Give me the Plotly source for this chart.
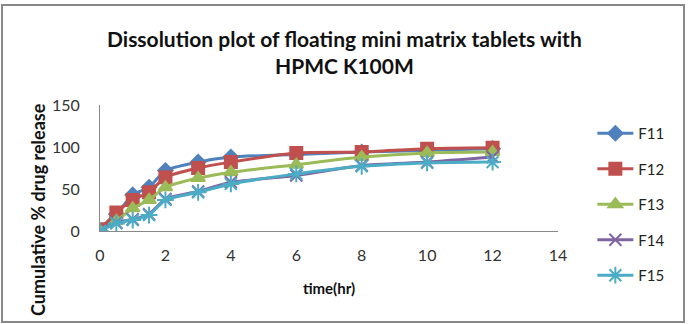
import plotly.graph_objects as go

time_hr = [0, 0.5, 1, 1.5, 2, 3, 4, 6, 8, 10, 12]
F11 = [0, 20, 43, 52, 72, 82, 88, 91, 94, 96, 98]
F12 = [2, 22, 37, 46, 64, 75, 82, 93, 94, 98, 99]
F13 = [0, 12, 27, 37, 52, 63, 70, 79, 88, 93, 94]
F14 = [0, 10, 14, 20, 38, 47, 58, 66, 78, 82, 88]
F15 = [0, 9, 13, 19, 37, 46, 56, 68, 77, 81, 82]

series = [
    ("F11", F11, "#4F81BD", "diamond", 11),
    ("F12", F12, "#C0504D", "square", 12),
    ("F13", F13, "#9BBB59", "triangle-up", 12),
    ("F14", F14, "#8064A2", "x-thin-open", 12),
    ("F15", F15, "#4BACC6", "asterisk-open", 14),
]

fig = go.Figure()
for name, vals, color, sym, size in series:
    fig.add_trace(go.Scatter(
        x=time_hr, y=vals, name=name, mode="lines+markers",
        legendgroup=name,
        line=dict(color=color, width=3, shape="spline", smoothing=0.6),
        marker=dict(symbol=sym, size=size, color=color,
                    line=dict(color=color, width=2)),
    ))

font_main = "Lato, Noto Sans, sans-serif"

fig.update_layout(
    width=689, height=324,
    margin=dict(l=100, r=131, t=105, b=93),
    paper_bgcolor="white", plot_bgcolor="white",
    showlegend=True,
    legend=dict(x=1.075, y=0.905, xanchor="left", yanchor="top",
                font=dict(family=font_main, size=15, color="#222"),
                tracegroupgap=13, itemwidth=36, maxheight=320,
                bgcolor="rgba(0,0,0,0)"),
    xaxis=dict(range=[0, 14], tickvals=[0, 2, 4, 6, 8, 10, 12, 14],
               showgrid=False, zeroline=False, showline=True,
               linecolor="#888", linewidth=1, ticks="",
               ticklabelstandoff=10,
               tickfont=dict(family=font_main, size=16, color="#333"),
               title=dict(text="<b>time(hr)</b>", standoff=20,
                          font=dict(family=font_main, size=15, color="#111"))),
    yaxis=dict(range=[0, 150], tickvals=[0, 50, 100, 150],
               showgrid=False, zeroline=False, showline=True,
               linecolor="#888", linewidth=1, ticks="",
               ticklabelstandoff=16,
               tickfont=dict(family=font_main, size=16, color="#333")),
    annotations=[
        dict(text="<b>Dissolution plot of floating mini matrix tablets with<br>HPMC K100M</b>",
             xref="paper", yref="paper", x=(344 - 100) / 458, y=(231 - 52) / 126,
             xanchor="center", yanchor="middle", showarrow=False,
             font=dict(family=font_main, size=21, color="#111")),
        dict(text="<b>Cumulative % drug release</b>",
             xref="paper", yref="paper", x=(38 - 100) / 458, y=(231 - 210) / 126,
             xanchor="center", yanchor="middle", showarrow=False, textangle=-90,
             font=dict(family=font_main, size=18, color="#111")),
    ],
    shapes=[
        dict(type="rect", xref="paper", yref="paper",
             x0=(2 - 100) / 458, x1=(684 - 100) / 458,
             y0=(231 - 322) / 126, y1=(231 - 5) / 126,
             line=dict(color="#888", width=2)),
    ],
)

fig.write_html("out.html")
